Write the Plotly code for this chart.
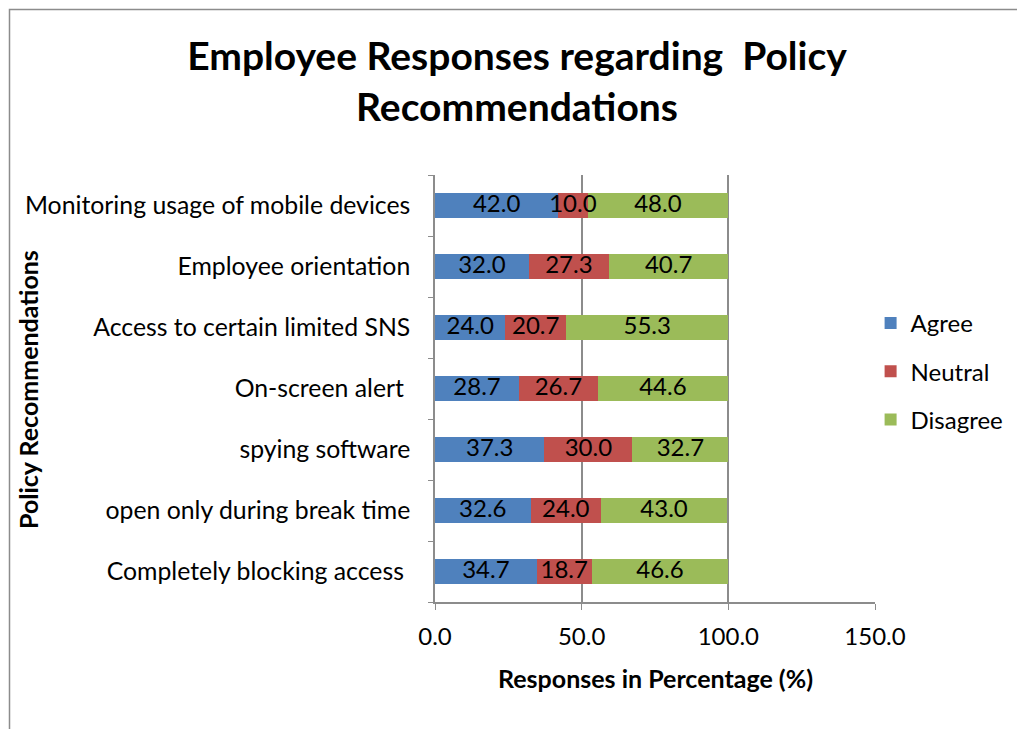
import plotly.graph_objects as go

categories = ["Completely blocking access ", "open only during break time", "spying software",
              "On-screen alert ", "Access to certain limited SNS", "Employee orientation",
              "Monitoring usage of mobile devices"]
agree = [34.7, 32.6, 37.3, 28.7, 24.0, 32.0, 42.0]
neutral = [18.7, 24.0, 30.0, 26.7, 20.7, 27.3, 10.0]
disagree = [46.6, 43.0, 32.7, 44.6, 55.3, 40.7, 48.0]
series_names = ["Agree", "Neutral", "Disagree"]
colors = ["#4F81BD", "#C0504D", "#9BBB59"]
x_ticks = [0, 50, 100, 150]
x_tick_labels = ["0.0", "50.0", "100.0", "150.0"]

FONT = "Lato"
fig = go.Figure()
series = [agree, neutral, disagree]
for name, vals, col in zip(series_names, series, colors):
    fig.add_trace(go.Bar(
        y=categories, x=vals, name=name, orientation="h",
        marker=dict(color=col, line=dict(width=0)),
        width=0.4, legendgroup=name,
    ))

# data labels on top of all bars
base = [0.0] * len(categories)
lx, ly, lt = [], [], []
for vals in series:
    for i, v in enumerate(vals):
        lx.append(base[i] + v / 2)
        ly.append(categories[i])
        lt.append(f"{v:.1f}")
        base[i] += v
fig.add_trace(go.Scatter(x=lx, y=ly, mode="text", text=lt, textposition="middle center",
                         textfont=dict(family=FONT, size=24, color="black"),
                         showlegend=False, hoverinfo="skip", cliponaxis=False))

fig.update_layout(
    barmode="stack",
    width=1017, height=721,
    margin=dict(l=427, r=150, t=167, b=127),
    paper_bgcolor="white", plot_bgcolor="white",
    font=dict(family=FONT, size=24, color="black"),
    title=dict(text="<b>Employee Responses regarding  Policy<br>Recommendations</b>",
               x=(517 - 8) / 1017, xanchor="center", y=1 - (70 - 8) / 721, yanchor="middle",
               font=dict(family=FONT, size=39, color="black")),
    legend=dict(x=0.99, y=0.54, xanchor="left", yanchor="middle",
                font=dict(family=FONT, size=24), tracegroupgap=14,
                itemwidth=30, traceorder="grouped"),
    showlegend=True,
)
fig.update_xaxes(range=[0, 150], tickvals=x_ticks, ticktext=x_tick_labels,
                 showgrid=True, gridcolor="#8c8c8c", gridwidth=1.5,
                 showline=True, linecolor="#8c8c8c", linewidth=1.5,
                 ticks="outside", ticklen=6, tickcolor="#8c8c8c", ticklabelstandoff=6,
                 tickfont=dict(family=FONT, size=24), zeroline=False)
fig.update_yaxes(showline=True, linecolor="#8c8c8c", linewidth=1.5,
                 ticks="outside", ticklen=5, tickcolor="#8c8c8c", tickson="boundaries",
                 tickfont=dict(family=FONT, size=24.8), ticklabelstandoff=18,
                 showgrid=False)

fig.add_annotation(text="<b>Responses in Percentage (%)</b>", xref="paper", yref="paper",
                   x=0.5, y=(602 - 678) / 427, xanchor="center", yanchor="middle",
                   showarrow=False, font=dict(family=FONT, size=25))
fig.add_annotation(text="<b>Policy Recommendations</b>", xref="paper", yref="paper",
                   x=(28 - 435) / 440, y=(602 - 390) / 427, xanchor="center", yanchor="middle",
                   textangle=-90, showarrow=False, font=dict(family=FONT, size=25))
fig.add_shape(type="rect", xref="paper", yref="paper",
              x0=(9.5 - 435) / 440, x1=(1100 - 435) / 440,
              y0=(602 - 800) / 427, y1=(602 - 9.5) / 427,
              line=dict(color="#8c8c8c", width=1.5), fillcolor="rgba(0,0,0,0)", layer="below")

fig.write_html("out.html")
